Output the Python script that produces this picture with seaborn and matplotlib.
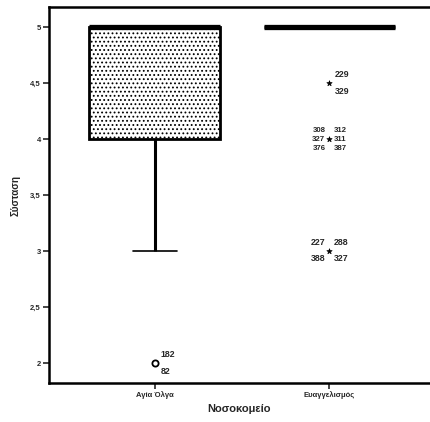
import numpy as np
import pandas as pd
import matplotlib
matplotlib.use("Agg")
import matplotlib.pyplot as plt
import seaborn as sns

# Recommendation scores (1-5 scale) per hospital, stored as value counts
hospitals = ["Αγία Όλγα", "Ευαγγελισμός"]
score_values = [2.0, 3.0, 3.5, 4.0, 4.5, 5.0]
counts_olga = [2, 10, 5, 40, 15, 120]
counts_evang = [0, 4, 0, 6, 2, 180]

# Flagged cases (outliers / extremes) with their case numbers
outlier_hospital = ["Αγία Όλγα", "Ευαγγελισμός", "Ευαγγελισμός", "Ευαγγελισμός"]
outlier_value = [2.0, 4.5, 4.0, 3.0]
outlier_kind = ["outlier", "extreme", "extreme", "extreme"]
outlier_cases = [
    ["182", "82"],
    ["229", "329"],
    ["308", "327", "376", "312", "311", "387"],
    ["227", "388", "288", "327"],
]

y_ticks = [2.0, 2.5, 3.0, 3.5, 4.0, 4.5, 5.0]

sns.set_style("white")
plt.rcParams["font.family"] = ["Liberation Sans", "DejaVu Sans"]
plt.rcParams["hatch.linewidth"] = 0.8

rows = []
for hosp, cnts in zip(hospitals, [counts_olga, counts_evang]):
    for v, c in zip(score_values, cnts):
        rows += [(hosp, v)] * c
df = pd.DataFrame(rows, columns=["Νοσοκομείο", "Σύσταση"])

fig = plt.figure(figsize=(4.30, 4.22), dpi=100)
ax = fig.add_axes([0.114, 0.092, 0.884, 0.891])

box_width = 0.75
sns.boxplot(
    data=df, x="Νοσοκομείο", y="Σύσταση", order=hospitals,
    color="white", linecolor="black", width=box_width, showfliers=False,
    whis=1.5, ax=ax,
    boxprops=dict(linewidth=2.0),
    medianprops=dict(linewidth=3.8, color="black", solid_capstyle="butt"),
    whiskerprops=dict(linewidth=2.2),
    capprops=dict(linewidth=1.2),
)
for p in ax.patches:
    p.set_hatch("....")
    p.set_edgecolor("black")

# Narrow the whisker caps to a third of the box width
for ln in ax.lines:
    xd, yd = np.asarray(ln.get_xdata(), float), np.asarray(ln.get_ydata(), float)
    if len(xd) == 2 and yd[0] == yd[1] and 0 < (xd[1] - xd[0]) < 0.6 * box_width:
        cx = xd.mean()
        ln.set_xdata([cx - box_width / 6, cx + box_width / 6])

# Outliers (circle) and extremes (star)
out_df = pd.DataFrame({"h": outlier_hospital, "v": outlier_value, "k": outlier_kind})
sub = out_df[out_df.k == "outlier"]
sns.scatterplot(data=sub, x="h", y="v", marker="o", s=20, facecolor="white",
                edgecolor="black", linewidth=1.3, ax=ax, zorder=5, legend=False)
sub = out_df[out_df.k == "extreme"]
sns.scatterplot(data=sub, x="h", y="v", marker="*", s=16, color="black",
                edgecolor="black", linewidth=0.5, ax=ax, zorder=5, legend=False)

# Case-number labels around each flagged point
for h, v, cases in zip(outlier_hospital, outlier_value, outlier_cases):
    xpos = hospitals.index(h)
    n = len(cases)
    fs = 6.3
    if n == 2:
        offs = [(4, 6, "left"), (4, -6, "left")]
    elif n == 4:
        offs = [(-3, 6, "right"), (-3, -5, "right"), (3, 6, "left"), (3, -5, "left")]
    else:
        fs = 5.6
        offs = [(-3, 6.5, "right"), (-3, 0, "right"), (-3, -6.5, "right"),
                (3, 6.5, "left"), (3, 0, "left"), (3, -6.5, "left")]
    for c, (dx, dy, ha) in zip(cases, offs):
        ax.annotate(c, (xpos, v), xytext=(dx, dy), ha=ha, va="center",
                    textcoords="offset points", fontsize=fs, fontweight="bold")

ax.set_xlim(-0.606, 1.571)
ax.set_ylim(1.821, 5.179)
ax.set_yticks(y_ticks)
ax.set_yticklabels([f"{t:g}".replace(".", ",") for t in y_ticks])
ax.tick_params(axis="both", direction="out", length=4, width=1.2, labelsize=5.5,
               left=True, bottom=True, pad=2)
for lbl in ax.get_yticklabels() + ax.get_xticklabels():
    lbl.set_fontweight("bold")

ax.set_xlabel("Νοσοκομείο", fontsize=8, fontweight="bold", labelpad=3)
ax.set_ylabel("Σύσταση", fontsize=7, fontweight="bold", labelpad=7)

for side in ["left", "bottom", "top"]:
    ax.spines[side].set_visible(True)
    ax.spines[side].set_color("black")
    ax.spines[side].set_linewidth(1.8)
ax.spines["right"].set_visible(False)

fig.savefig("out.png", dpi=100, facecolor="white")
